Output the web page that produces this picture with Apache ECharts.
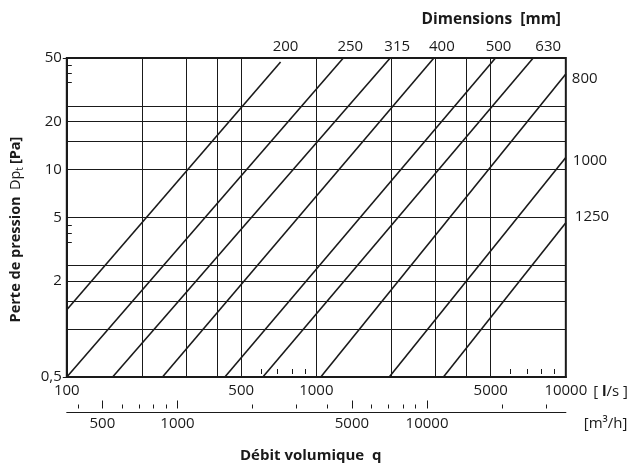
<!DOCTYPE html>
<html><head><meta charset="utf-8">
<script src="https://cdn.jsdelivr.net/npm/echarts@6/dist/echarts.min.js"></script>
<style>html,body{margin:0;padding:0;background:#fff}#c{width:631px;height:466px}</style>
</head><body><div id="c"></div>
<script>
// Duct dimensions [mm] and end points of each pressure-loss line (q in l/s, Dp in Pa)
const sizes   = ['200', '250', '315', '400', '500', '630', '800', '1000', '1250'];
const startQ  = [100, 100, 152.6, 241.8, 430, 610.6, 1042, 1960, 3232];
const startDp = [1.32, 0.5, 0.5, 0.5, 0.5, 0.5, 0.5, 0.5, 0.5];
const endQ    = [719, 1283, 1978, 2960, 5226, 7400, 10000, 10000, 10000];
const endDp   = [47.2, 50, 50, 50, 50, 50, 39.7, 11.9, 4.64];

// grid lines and tick values
const hGrid = [1, 1.5, 2, 2.5, 5, 10, 15, 20, 25];
const vGrid = [200, 300, 400, 500, 1000, 2000, 3000, 4000, 5000];
const dpLabels = [0.5, 2, 5, 10, 20, 50];
const dpMinorTicks = [3.5, 4, 4.5, 35, 40, 45];
const lsLabels = [100, 500, 1000, 5000, 10000];
const lsMinorTicks = [600, 700, 800, 900, 6000, 7000, 8000, 9000];
const m3hLabels = [500, 1000, 5000, 10000];
const m3hMinorTicks = [400, 600, 700, 800, 900, 2000, 3000, 4000, 6000, 7000, 8000, 9000, 20000, 30000];

// label styling per line (style only)
const labelPos = ['top', 'top', 'top', 'top', 'top', 'top', 'right', 'right', 'right'];
const labelOffset = [[5, -4], [7, 0], [7, 0], [8, 0], [3, 0], [15, 0], [2, 5], [3, 3], [5, -6]];

const FONT = '"Open Sans", "Noto Sans", sans-serif';
const INK = '#1a1a1a';
const txt = {color: INK, fontSize: 15, fontFamily: FONT};
const plainNum = v => String(Math.round(v));

const chart = echarts.init(document.getElementById('c'), null, {renderer: 'canvas'});

const series = sizes.map((s, i) => ({
  name: s,
  type: 'line',
  xAxisIndex: 0, yAxisIndex: 0,
  data: [[startQ[i], startDp[i]], [endQ[i], endDp[i]]],
  symbol: 'none',
  silent: true,
  animation: false,
  emphasis: {disabled: true},
  lineStyle: {color: INK, width: 1.6},
  z: 3,
  markPoint: {
    symbol: 'circle', symbolSize: 0, silent: true, animation: false,
    label: Object.assign({show: true, formatter: s, position: labelPos[i], offset: labelOffset[i], distance: 4}, txt),
    data: [{coord: [endQ[i], endDp[i]]}]
  }
}));

series[0].markLine = {
  silent: true, animation: false, symbol: ['none', 'none'],
  label: {show: false},
  lineStyle: {color: INK, width: 1, type: 'solid'},
  emphasis: {disabled: true},
  data: hGrid.map(v => ({yAxis: v})).concat(vGrid.map(v => ({xAxis: v})))
};

const plainLog = {type: 'log', logBase: 10, splitLine: {show: false}, minorTick: {show: false}, minorSplitLine: {show: false}};

chart.setOption({
  animation: false,
  backgroundColor: '#fff',
  title: [
    {text: 'Dimensions  [mm]', right: 70, top: 12, padding: 0,
     textStyle: {color: INK, fontSize: 15.5, fontWeight: 'bold', fontFamily: FONT}},
    {text: 'Débit volumique  q', left: 240, top: 448, padding: 0,
     textStyle: {color: INK, fontSize: 15, fontWeight: 'bold', fontFamily: FONT}}
  ],
  grid: {left: 66.8, right: 64.2, top: 58, bottom: 89, show: true, borderColor: INK, borderWidth: 2, backgroundColor: 'transparent'},
  xAxis: [
    Object.assign({}, plainLog, {
      min: 100, max: 10000, position: 'bottom',
      axisLine: {show: true, lineStyle: {color: INK, width: 2}},
      axisTick: {show: false},
      axisLabel: Object.assign({customValues: lsLabels, margin: 6, formatter: plainNum}, txt),
      name: '[ {b|l}/s ]', nameLocation: 'end', nameGap: 19,
      nameTextStyle: Object.assign({verticalAlign: 'top', padding: [7, 0, 0, 0],
        rich: {b: {fontWeight: 'bold', fontSize: 15, fontFamily: FONT, color: INK}}}, txt)
    }),
    Object.assign({}, plainLog, {
      min: 100, max: 10000, position: 'bottom', offset: -3,
      axisLine: {show: false},
      axisTick: {show: true, inside: true, length: 5, customValues: lsMinorTicks, lineStyle: {color: INK, width: 1}},
      axisLabel: {show: false}
    }),
    Object.assign({}, plainLog, {
      min: 360, max: 36000, position: 'bottom', offset: 35.5,
      axisLine: {show: true, lineStyle: {color: INK, width: 1.2}},
      axisTick: {show: false},
      axisLabel: Object.assign({customValues: m3hLabels, margin: 4, formatter: plainNum}, txt),
      name: '[m³/h]', nameLocation: 'end', nameGap: 18,
      nameTextStyle: Object.assign({verticalAlign: 'top', padding: [4, 0, 0, 0]}, txt)
    }),
    Object.assign({}, plainLog, {
      min: 360, max: 36000, position: 'bottom', offset: 31.5,
      axisLine: {show: false},
      axisTick: {show: true, inside: true, length: 8, customValues: m3hLabels, lineStyle: {color: INK, width: 1}},
      axisLabel: {show: false}
    }),
    Object.assign({}, plainLog, {
      min: 360, max: 36000, position: 'bottom', offset: 31.5,
      axisLine: {show: false},
      axisTick: {show: true, inside: true, length: 4, customValues: m3hMinorTicks, lineStyle: {color: INK, width: 1}},
      axisLabel: {show: false}
    })
  ],
  yAxis: [
    Object.assign({}, plainLog, {
      min: 0.5, max: 50, position: 'left',
      axisLine: {show: true, lineStyle: {color: INK, width: 2}},
      axisTick: {show: true, inside: true, length: 5, customValues: dpMinorTicks, lineStyle: {color: INK, width: 1}},
      axisLabel: Object.assign({customValues: dpLabels, margin: 5,
        formatter: v => (Math.abs(v - 0.5) < 1e-6 ? '0,5' : String(Math.round(v)))}, txt),
      name: '{b|Perte de pression}  {n|Dp}{s|t} {b|[Pa]}',
      nameLocation: 'middle', nameGap: 42, nameRotate: 90,
      nameTextStyle: {color: INK, fontFamily: FONT, padding: [0, 24, 0, 0],
        rich: {
          b: {fontWeight: 'bold', fontSize: 14.5, fontFamily: FONT, color: INK},
          n: {fontSize: 14.5, fontFamily: FONT, color: INK},
          s: {fontSize: 10, fontFamily: FONT, color: INK, padding: [7, 0, 0, 0]}
        }}
    }),
    Object.assign({}, plainLog, {
      min: 0.5, max: 50, position: 'left',
      axisLine: {show: false},
      axisTick: {show: true, inside: false, length: 4, customValues: [0.5, 50], lineStyle: {color: INK, width: 1}},
      axisLabel: {show: false}
    })
  ],
  series: series
});
</script>
</body></html>
